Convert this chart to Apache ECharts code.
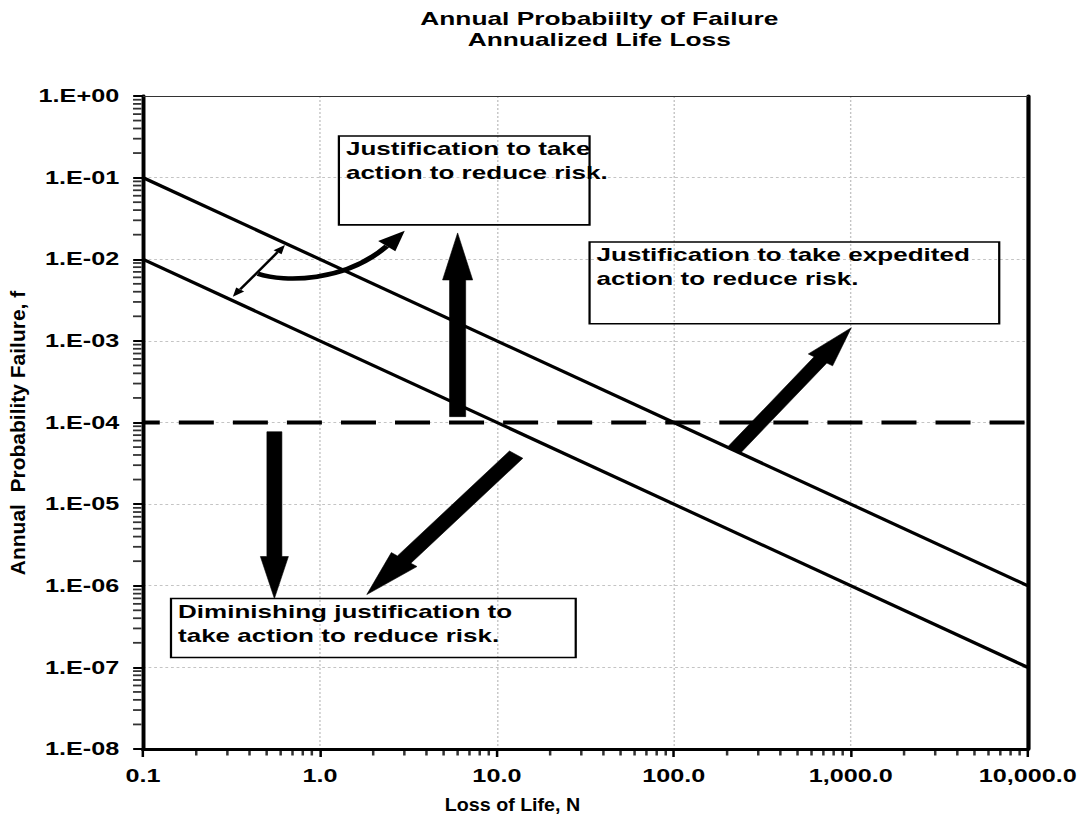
<!DOCTYPE html>
<html>
<head>
<meta charset="utf-8">
<script src="https://cdn.jsdelivr.net/npm/echarts@6/dist/echarts.min.js"></script>
<style>
  html, body { margin: 0; padding: 0; background: #fff; overflow: hidden; }
  /* the chart is laid out narrow and widened horizontally as a whole */
  #chart { width: 772px; height: 819px; transform: scaleX(1.40026); transform-origin: 0 0; }
</style>
</head>
<body>
<div id="chart"></div>
<script>
// ---- axis tick labels ----
const nTickLabels = ['0.1', '1.0', '10.0', '100.0', '1,000.0', '10,000.0'];
const fTickLabels = ['1.E-08', '1.E-07', '1.E-06', '1.E-05', '1.E-04', '1.E-03', '1.E-02', '1.E-01', '1.E+00'];

// ---- guideline lines (N = loss of life, f = annual probability) ----
const upperN = [0.1, 10000];
const upperF = [1e-1, 1e-6];
const lowerN = [0.1, 10000];
const lowerF = [1e-2, 1e-7];
const limitN = [0.1, 10000];
const limitF = [1e-4, 1e-4];

// ---- note boxes: opposite corners in (N, f) ----
const noteTexts = [
  'Justification to take\naction to reduce risk.',
  'Justification to take expedited\naction to reduce risk.',
  'Diminishing justification to\ntake action to reduce risk.'
];
const noteCornerA = [[1.28, 0.324], [33.4, 0.0163], [0.144, 6.97e-7]];
const noteCornerB = [[33.4, 0.0264], [6900, 1.62e-3], [27.9, 1.32e-7]];

// ---- block arrows: tail and tip in (N, f) ----
const arrowTails = [[6.0, 1.18e-4], [0.553, 7.7e-5], [12.85, 4.04e-5], [220, 4.65e-5]];
const arrowTips  = [[6.0, 2.1e-2], [0.553, 6.97e-7], [1.84, 7.8e-7], [1007, 1.45e-3]];

// ---- curved arrow (start, two control points, tip) and the span arrow between the lines ----
const bendPath = [[0.446, 6.63e-3], [0.634, 5.14e-3], [1.382, 5.29e-3], [3.016, 2.23e-2]];
const spanEnds = [[0.634, 0.015], [0.322, 3.47e-3]];

// ---- drawing styles ----
const FONT = '"Liberation Sans", Arial, sans-serif';
const arrowStyles = [
  { shaft: 11.5, headWidth: 21.5, headLength: 47 },
  { shaft: 10.7, headWidth: 20, headLength: 42 },
  { shaft: 12, headWidth: 23, headLength: 44 },
  { shaft: 11, headWidth: 21, headLength: 39 }
];
const N_MIN = 0.1, N_MAX = 10000, F_MIN = 1e-8, F_MAX = 1;

function zip(a, b) { return a.map((v, i) => [v, b[i]]); }

// minor tick values 2..9 within each decade
function minorValues(lo, hi) {
  const out = [];
  for (let e = lo; e < hi; e++) {
    for (let m = 2; m <= 9; m++) out.push(m * Math.pow(10, e));
  }
  return out;
}
const nMinor = minorValues(-1, 4);
const fMinor = minorValues(-8, 0);

function blockArrowPoints(p0, p1, s) {
  const dx = p1[0] - p0[0], dy = p1[1] - p0[1];
  const len = Math.hypot(dx, dy);
  const ux = dx / len, uy = dy / len, nx = -uy, ny = ux;
  const bx = p1[0] - ux * s.headLength, by = p1[1] - uy * s.headLength;
  const w = s.shaft / 2, hw = s.headWidth / 2;
  return [
    [p0[0] + nx * w, p0[1] + ny * w],
    [bx + nx * w, by + ny * w],
    [bx + nx * hw, by + ny * hw],
    [p1[0], p1[1]],
    [bx - nx * hw, by - ny * hw],
    [bx - nx * w, by - ny * w],
    [p0[0] - nx * w, p0[1] - ny * w]
  ];
}

function headPoints(tip, from, len, width) {
  const dx = tip[0] - from[0], dy = tip[1] - from[1];
  const l = Math.hypot(dx, dy);
  const ux = dx / l, uy = dy / l, nx = -uy, ny = ux;
  const bx = tip[0] - ux * len, by = tip[1] - uy * len;
  return { base: [bx, by], pts: [[tip[0], tip[1]], [bx + nx * width / 2, by + ny * width / 2], [bx - nx * width / 2, by - ny * width / 2]] };
}

const chart = echarts.init(document.getElementById('chart'), null, { renderer: 'svg' });

const logAxisCommon = { type: 'log', logBase: 10 };

chart.setOption({
  animation: false,
  backgroundColor: '#fff',
  grid: { left: 102.1, right: 37.8, top: 96, bottom: 70 },
  graphic: [
    {
      type: 'text', x: 428, y: 28.5,
      style: {
        text: 'Annual Probabiilty of Failure\nAnnualized Life Loss',
        font: 'bold 18.8px ' + FONT, fill: '#000',
        textAlign: 'center', textVerticalAlign: 'middle', lineHeight: 21
      }
    },
    {
      type: 'text', x: 366, y: 805, scaleX: 0.78,
      style: {
        text: 'Loss of Life, N', font: 'bold 18px ' + FONT, fill: '#000',
        textAlign: 'center', textVerticalAlign: 'middle'
      }
    },
    {
      type: 'text', x: 13, y: 433, rotation: Math.PI / 2, scaleX: 1.5,
      style: {
        text: 'Annual  Probability Failure, f', font: 'bold 14px ' + FONT, fill: '#000',
        textAlign: 'center', textVerticalAlign: 'middle'
      }
    }
  ],
  xAxis: [
    Object.assign({}, logAxisCommon, {
      position: 'bottom', min: N_MIN, max: N_MAX,
      axisLine: { lineStyle: { color: '#000', width: 3 } },
      axisTick: { length: 8, lineStyle: { color: '#000', width: 1.8 } },
      axisLabel: {
        margin: 18, color: '#000', fontFamily: FONT, fontWeight: 'bold', fontSize: 18,
        formatter: v => nTickLabels[Math.round(Math.log10(v)) + 1]
      },
      splitLine: { show: true, lineStyle: { color: '#c4c4c4', width: 1, type: [2, 2] } }
    }),
    Object.assign({}, logAxisCommon, {
      position: 'top', min: N_MIN, max: N_MAX,
      axisLine: { lineStyle: { color: '#333', width: 1 } },
      axisTick: { show: false }, axisLabel: { show: false }, splitLine: { show: false }
    })
  ],
  yAxis: [
    Object.assign({}, logAxisCommon, {
      position: 'left', min: F_MIN, max: F_MAX,
      axisLine: { lineStyle: { color: '#000', width: 2.8 } },
      axisTick: { length: 7, lineStyle: { color: '#000', width: 2 } },
      axisLabel: {
        margin: 17, color: '#000', fontFamily: FONT, fontWeight: 'bold', fontSize: 18,
        formatter: v => fTickLabels[Math.round(Math.log10(v)) + 8]
      },
      splitLine: { show: true, lineStyle: { color: '#c4c4c4', width: 1, type: [2, 2] } }
    }),
    Object.assign({}, logAxisCommon, {
      position: 'right', min: F_MIN, max: F_MAX,
      axisLine: { lineStyle: { color: '#000', width: 3 } },
      axisTick: { show: false }, axisLabel: { show: false }, splitLine: { show: false }
    })
  ],
  series: [
    // minor ticks on the N axis, hanging below the axis line
    {
      type: 'scatter', clip: false,
      data: nMinor.map(v => [v, F_MIN]),
      symbol: 'rect', symbolSize: [1.8, 5], symbolOffset: [0, 4],
      itemStyle: { color: '#000' }
    },
    // minor ticks on the f axis, left of the axis line
    {
      type: 'scatter', clip: false,
      data: fMinor.map(v => [N_MIN, v]),
      symbol: 'rect', symbolSize: [6, 1.8], symbolOffset: [-4.1, 0],
      itemStyle: { color: '#000' }
    },
    {
      name: 'upper', type: 'line', data: zip(upperN, upperF), showSymbol: false, silent: true,
      lineStyle: { color: '#000', width: 3 }
    },
    {
      name: 'lower', type: 'line', data: zip(lowerN, lowerF), showSymbol: false, silent: true,
      lineStyle: { color: '#000', width: 3 }
    },
    {
      name: 'limit', type: 'line', data: zip(limitN, limitF), showSymbol: false, silent: true,
      lineStyle: { color: '#000', width: 4, type: [25, 13.6], dashOffset: 12.9 }
    },
    // note boxes
    {
      type: 'custom', silent: true, z: 6, clip: false,
      data: noteCornerA.map((a, i) => [a[0], a[1], noteCornerB[i][0], noteCornerB[i][1]]),
      renderItem: (params, api) => {
        const a = api.coord([api.value(0), api.value(1)]);
        const b = api.coord([api.value(2), api.value(3)]);
        const x = Math.min(a[0], b[0]), y = Math.min(a[1], b[1]);
        const w = Math.abs(b[0] - a[0]), h = Math.abs(b[1] - a[1]);
        return {
          type: 'group',
          children: [
            { type: 'rect', shape: { x: x, y: y, width: w, height: h }, style: { fill: 'none', stroke: '#000', lineWidth: 1.6 } },
            {
              type: 'text', x: x + 5, y: y + 1,
              style: {
                text: noteTexts[params.dataIndex], font: 'bold 18.6px ' + FONT, fill: '#000',
                textAlign: 'left', textVerticalAlign: 'top', lineHeight: 24
              }
            }
          ]
        };
      }
    },
    // block arrows
    {
      type: 'custom', silent: true, z: 7, clip: false,
      data: arrowTails.map((t, i) => [t[0], t[1], arrowTips[i][0], arrowTips[i][1]]),
      renderItem: (params, api) => {
        const p0 = api.coord([api.value(0), api.value(1)]);
        const p1 = api.coord([api.value(2), api.value(3)]);
        return {
          type: 'polygon',
          shape: { points: blockArrowPoints(p0, p1, arrowStyles[params.dataIndex]) },
          style: { fill: '#000', stroke: '#000', lineWidth: 0.5 }
        };
      }
    },
    // curved arrow
    {
      type: 'custom', silent: true, z: 7, clip: false,
      data: [[].concat(...bendPath)],
      renderItem: (params, api) => {
        const p = [0, 1, 2, 3].map(k => api.coord([api.value(2 * k), api.value(2 * k + 1)]));
        const head = headPoints(p[3], p[2], 20, 16);
        return {
          type: 'group',
          children: [
            {
              type: 'bezierCurve',
              shape: { x1: p[0][0], y1: p[0][1], cpx1: p[1][0], cpy1: p[1][1], cpx2: p[2][0], cpy2: p[2][1], x2: head.base[0], y2: head.base[1] },
              style: { stroke: '#000', lineWidth: 4.5, fill: 'none' }
            },
            { type: 'polygon', shape: { points: head.pts }, style: { fill: '#000' } }
          ]
        };
      }
    },
    // span arrow between the two lines
    {
      type: 'custom', silent: true, z: 7, clip: false,
      data: [[spanEnds[0][0], spanEnds[0][1], spanEnds[1][0], spanEnds[1][1]]],
      renderItem: (params, api) => {
        const a = api.coord([api.value(0), api.value(1)]);
        const b = api.coord([api.value(2), api.value(3)]);
        const ha = headPoints(a, b, 9, 7);
        const hb = headPoints(b, a, 9, 7);
        return {
          type: 'group',
          children: [
            { type: 'line', shape: { x1: ha.base[0], y1: ha.base[1], x2: hb.base[0], y2: hb.base[1] }, style: { stroke: '#000', lineWidth: 2 } },
            { type: 'polygon', shape: { points: ha.pts }, style: { fill: '#000' } },
            { type: 'polygon', shape: { points: hb.pts }, style: { fill: '#000' } }
          ]
        };
      }
    }
  ]
});
</script>
</body>
</html>
